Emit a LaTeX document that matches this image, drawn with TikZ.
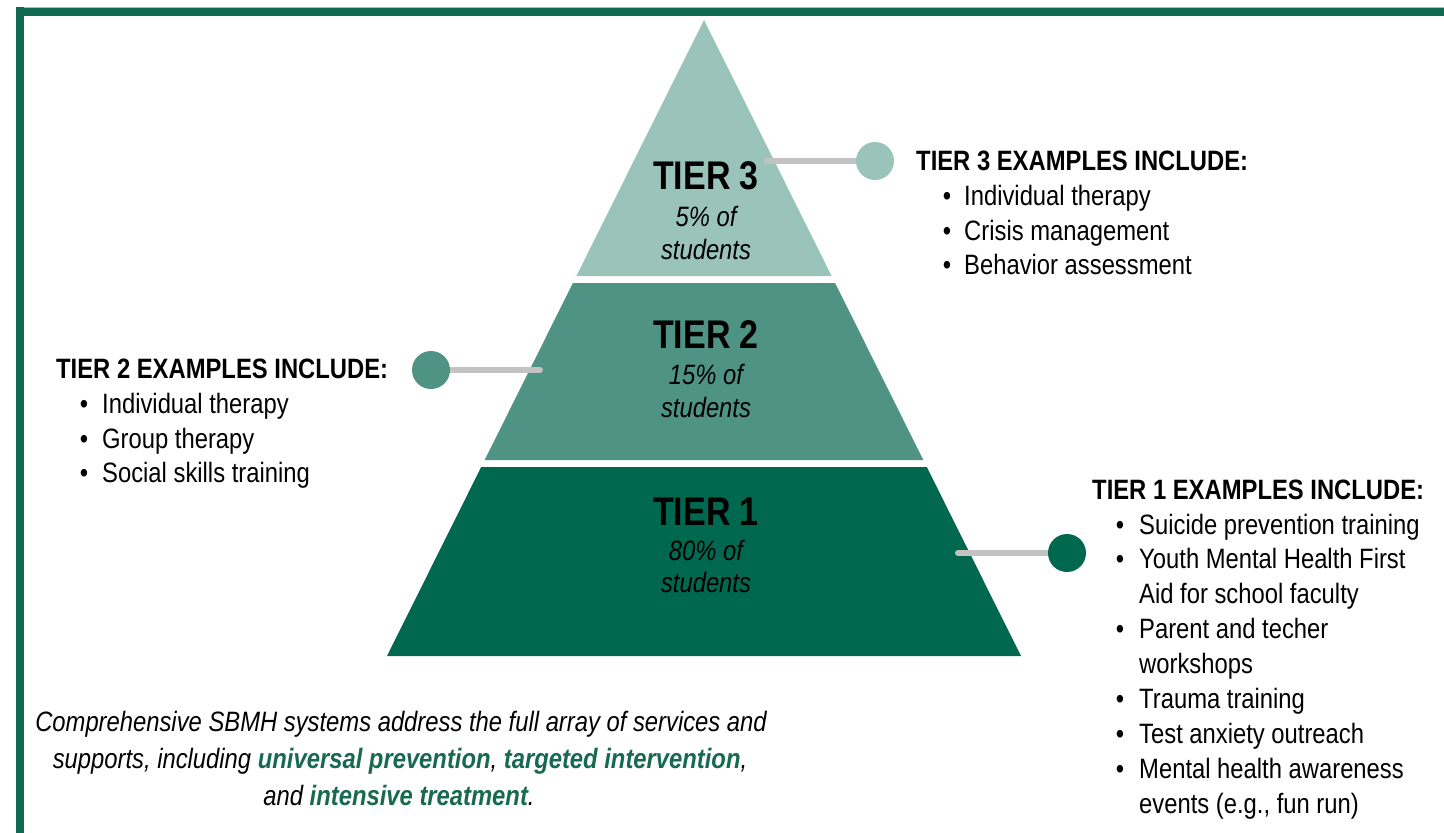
\documentclass[tikz,border=0pt]{standalone}
\usepackage{fontspec}
\setmainfont[FakeStretch=0.85]{Liberation Sans}
\definecolor{framegreen}{HTML}{0F6950}
\definecolor{tierthree}{HTML}{9AC4B9}
\definecolor{tiertwo}{HTML}{4E9383}
\definecolor{tierone}{HTML}{00684E}
\definecolor{linkgray}{HTML}{C3C3C3}
\definecolor{textgreen}{HTML}{17694F}
\begin{document}
\begin{tikzpicture}[x=1pt,y=-1pt,
  tierlabel/.style={font=\fontsize{40}{40}\selectfont\bfseries, anchor=base, inner sep=0pt},
  share/.style={font=\fontsize{28}{28}\selectfont\itshape, anchor=base, inner sep=0pt},
  head/.style={font=\fontsize{28}{28}\selectfont\bfseries, anchor=base west, inner sep=0pt},
  item/.style={font=\fontsize{28}{28}\selectfont, anchor=base west, inner sep=0pt},
  bul/.style={font=\fontsize{28}{28}\selectfont, anchor=base, inner sep=0pt},
  link/.style={line width=6pt, draw=linkgray, line cap=round},
  dot/.style={circle, minimum size=38pt, inner sep=0pt},
  note/.style={font=\fontsize{28}{28}\selectfont\itshape, anchor=base, inner sep=0pt}]
\useasboundingbox (0,0) rectangle (1444,833);
\fill[white] (0,0) rectangle (1444,833);
% frame
\fill[framegreen] (16,7) rectangle (1444,16);
\fill[framegreen] (16,7) rectangle (24,833);
\fill[framegreen!40] (24,6.5) rectangle (1444,7.5);
% pyramid
\fill[tierthree] (704,20) -- (831.6,276) -- (576.4,276) -- cycle;
\fill[tiertwo] (572.9,283) -- (835.1,283) -- (923.3,460) -- (484.7,460) -- cycle;
\fill[tierone] (481.2,467) -- (926.8,467) -- (1021,656) -- (387,656) -- cycle;
% tier labels
\node[tierlabel] (t3) at (706,189) {TIER 3};
\node[share] (t3a) at (706,226) {5\% of};
\node[share] (t3b) at (706,259) {students};
\node[tierlabel] (t2) at (706,348) {TIER 2};
\node[share] (t2a) at (706,384) {15\% of};
\node[share] (t2b) at (706,417) {students};
\node[tierlabel] (t1) at (706,525) {TIER 1};
\node[share] (t1a) at (706,560) {80\% of};
\node[share] (t1b) at (706,592) {students};
% connectors
\coordinate (c3) at (767,161);
\coordinate (c2) at (540,370);
\coordinate (c1) at (958,553);
\node[dot] (d3) at (875,161) {};
\node[dot] (d2) at (431,370) {};
\node[dot] (d1) at (1067,553) {};
\draw[link] (c3) -- (d3.center);
\draw[link] (c2) -- (d2.center);
\draw[link] (c1) -- (d1.center);
\fill[tierthree] (d3) circle (19);
\fill[tiertwo] (d2) circle (19);
\fill[tierone] (d1) circle (19);
% tier 3 list
\node[head] (h3) at (916,170) {TIER 3 EXAMPLES INCLUDE:};
\foreach \t/\y in {Individual therapy/205, Crisis management/240, Behavior assessment/274}{
  \node[bul] at (947,\y) {•};
  \node[item] at (964,\y) {\t};
}
% tier 2 list
\node[head] (h2) at (56,378) {TIER 2 EXAMPLES INCLUDE:};
\foreach \t/\y in {Individual therapy/413, Group therapy/448, Social skills training/482}{
  \node[bul] at (84,\y) {•};
  \node[item] at (102,\y) {\t};
}
% tier 1 list
\node[head] (h1) at (1092,499) {TIER 1 EXAMPLES INCLUDE:};
\foreach \y in {534,568,638,708,743,778}{
  \node[bul] at (1120,\y) {•};
}
\foreach \t/\y in {Suicide prevention training/534, Youth Mental Health First/568, Aid for school faculty/603, Parent and techer/638, workshops/673, Trauma training/708, Test anxiety outreach/743, Mental health awareness/778, {events (e.g., fun run)}/813}{
  \node[item] at (1139,\y) {\t};
}
% bottom note
\node[note] (n1) at (401,731) {Comprehensive SBMH systems address the full array of services and};
\node[note] (n2) at (400,768) {supports, including \textcolor{textgreen}{\bfseries universal prevention}, \textcolor{textgreen}{\bfseries targeted intervention},};
\node[note] (n3) at (399,805) {and \textcolor{textgreen}{\bfseries intensive treatment}.};
\end{tikzpicture}
\end{document}
